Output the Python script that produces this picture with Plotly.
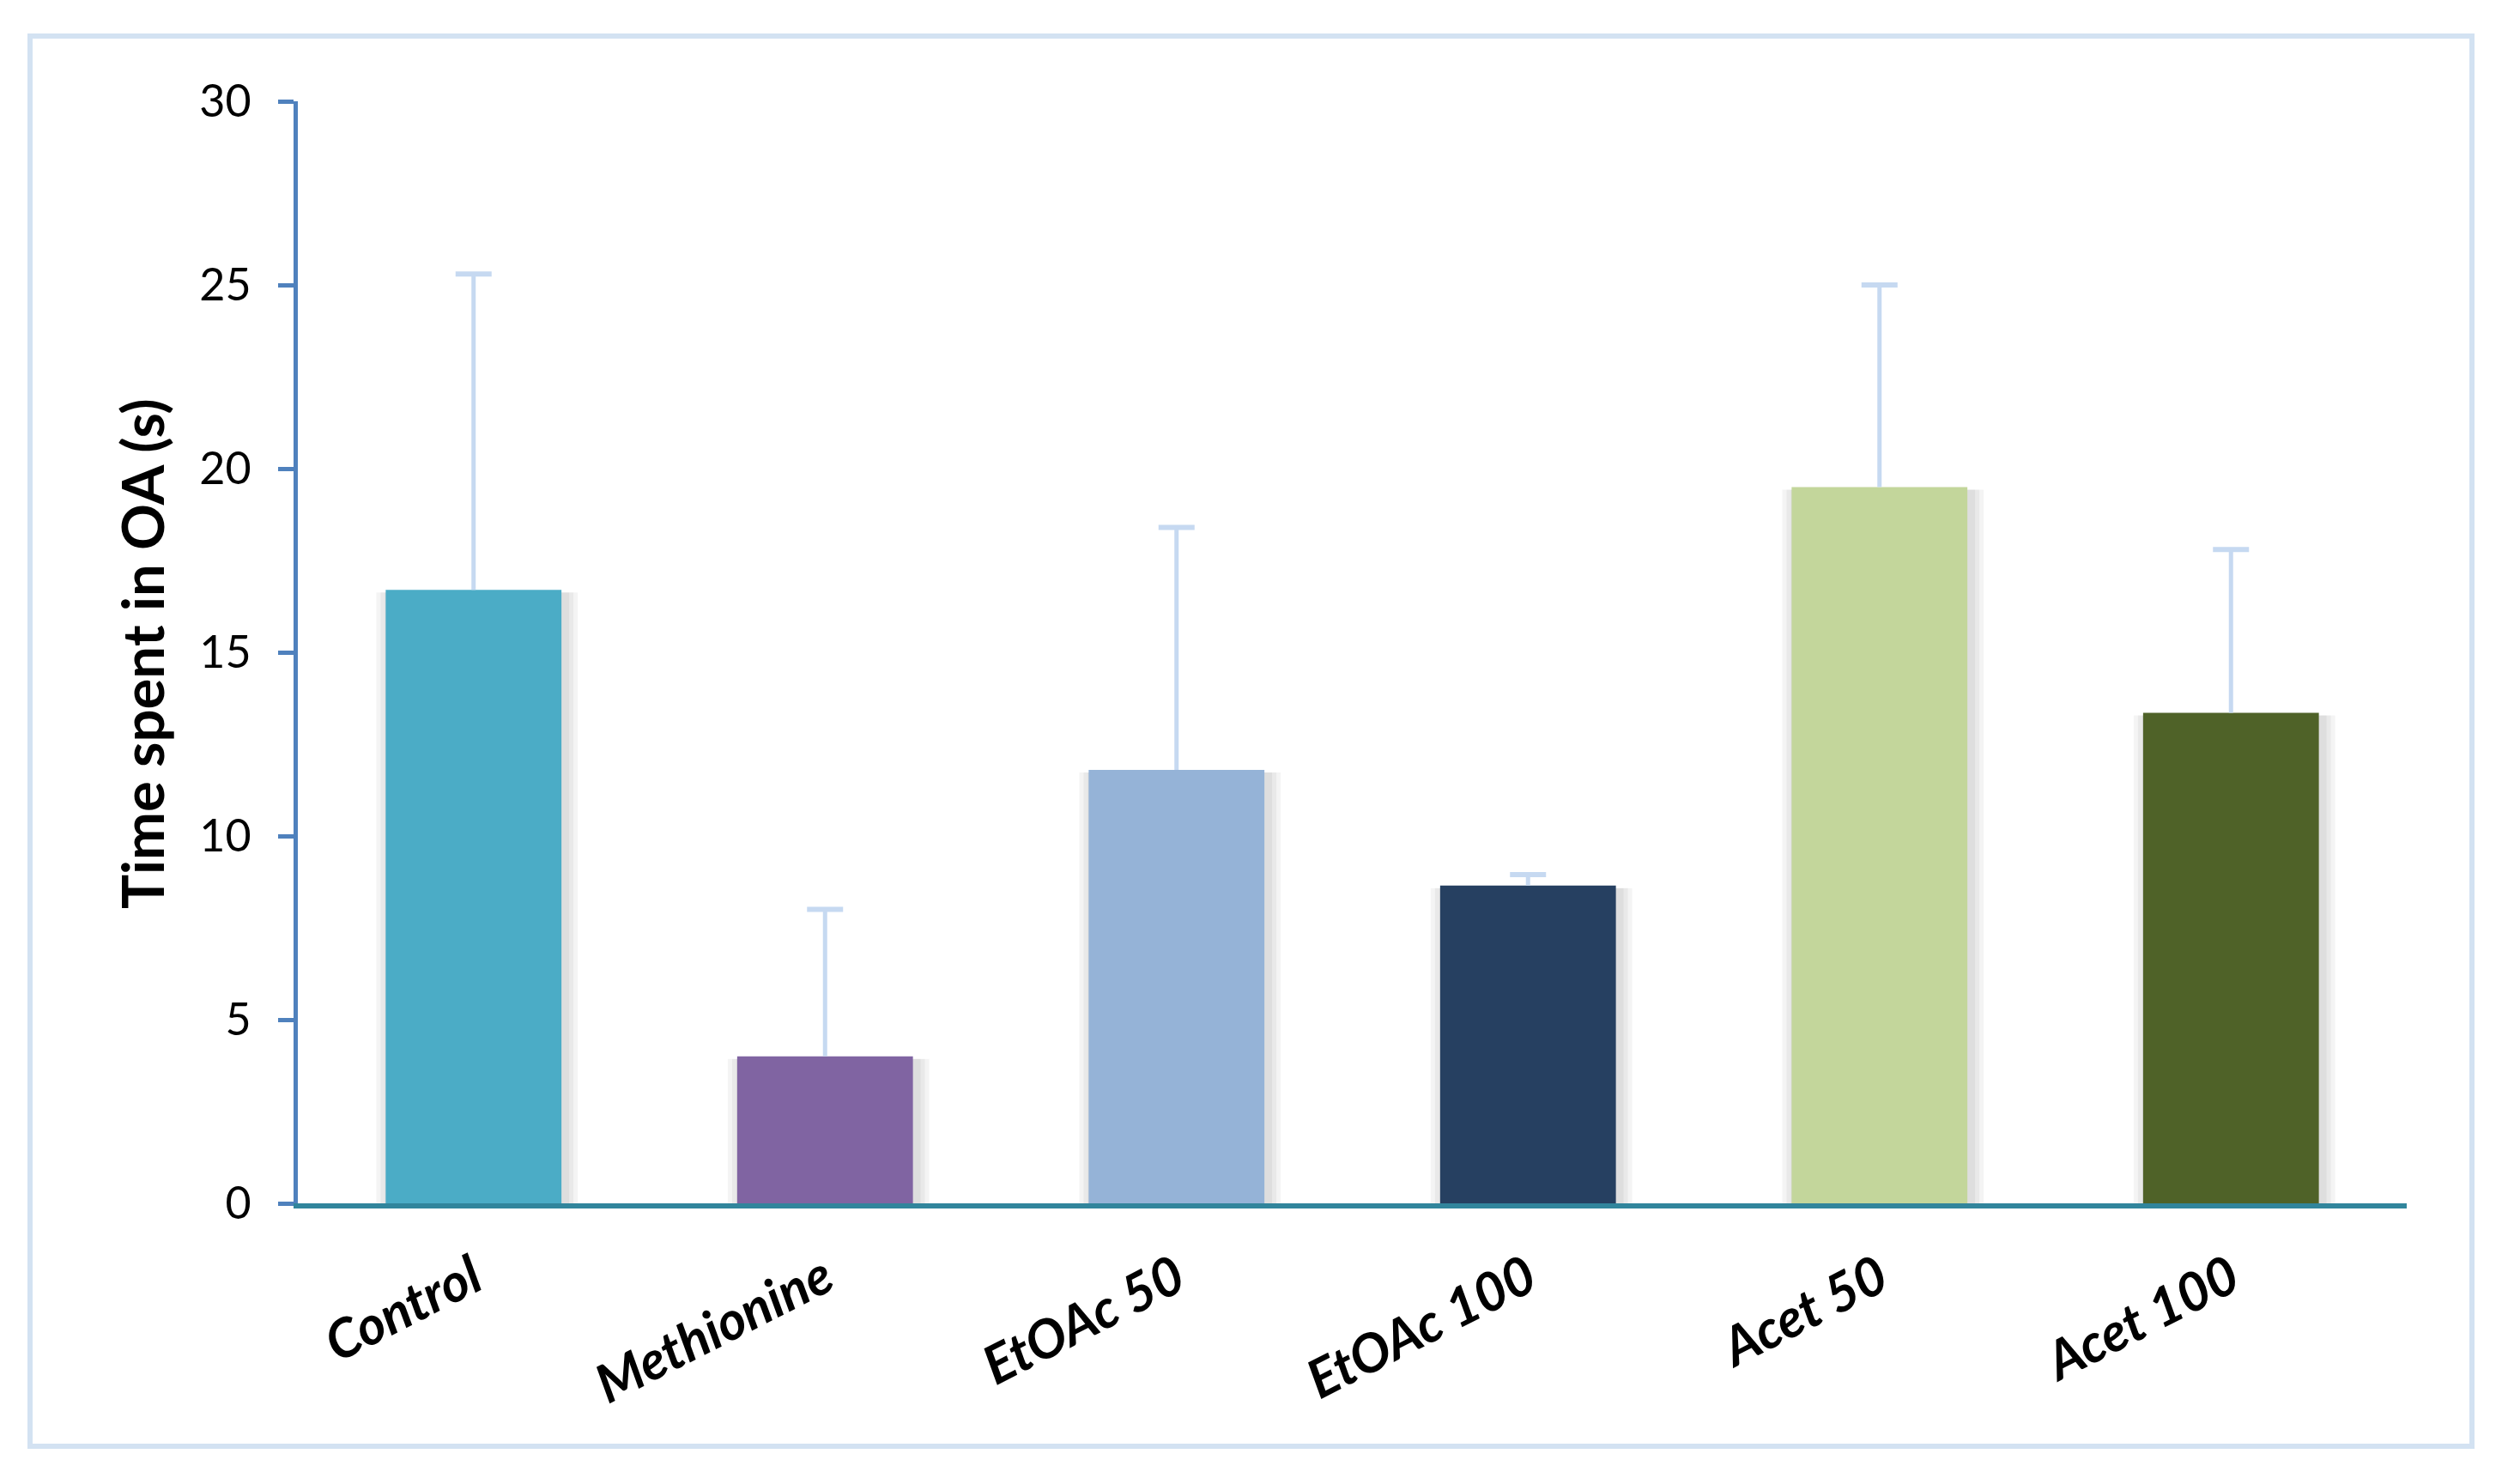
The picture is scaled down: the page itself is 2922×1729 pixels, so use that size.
import plotly.graph_objects as go

categories = ["Control", "Methionine", "EtOAc 50", "EtOAc 100", "Acet 50", "Acet 100"]
means = [16.7, 4.0, 11.8, 8.65, 19.5, 13.35]
upper = [25.3, 8.0, 18.4, 8.95, 25.0, 17.8]
colors = ["#4BACC6", "#8064A2", "#95B3D7", "#264061", "#C3D69B", "#4F6228"]
y_ticks = [0, 5, 10, 15, 20, 25, 30]

ERR_COLOR = "#C6D9F1"
BAR_W = 0.5

OFF = 8  # default body margin of the page
W, H = 2922 - OFF, 1729 - OFF
L, T = 347 - OFF, 118 - OFF
R, B = 2922 - 2804, 1729 - 1402
PW, PH = W - L - R, H - T - B
CAT_PX = PW / len(categories)
UNIT_PX = PH / 30.0

fig = go.Figure()

# soft drop shadow behind the bars
for k in (3, 2, 1):
    extra = 2 * 5 * k / CAT_PX
    wdt = BAR_W + extra
    fig.add_trace(go.Bar(
        x=categories,
        y=[m - 3 / UNIT_PX for m in means],
        width=wdt,
        offset=-wdt / 2 + 4 / CAT_PX,
        marker=dict(color="rgba(0,0,0,0.045)", line=dict(width=0)),
        showlegend=False, hoverinfo="skip",
    ))

fig.add_trace(go.Bar(
    x=categories,
    y=means,
    marker=dict(color=colors, line=dict(width=0)),
    width=BAR_W,
    offset=-BAR_W / 2,
    showlegend=False,
    hoverinfo="x+y",
))

# upper-only error bars: stems from bar top to upper value, plus caps
stem_x, stem_y = [], []
for c, m, u in zip(categories, means, upper):
    stem_x += [c, c, None]
    stem_y += [m, u, None]
fig.add_trace(go.Scatter(
    x=stem_x, y=stem_y, mode="lines",
    line=dict(color=ERR_COLOR, width=5),
    showlegend=False, hoverinfo="skip",
))
fig.add_trace(go.Scatter(
    x=categories, y=upper, mode="markers",
    marker=dict(symbol="line-ew", size=30, line=dict(color=ERR_COLOR, width=6)),
    showlegend=False, hoverinfo="skip",
))


def px_x(x):  # page pixel -> paper x
    return (x - OFF - L) / PW


def px_y(y):  # page pixel -> paper y
    return 1 - (y - OFF - T) / PH


fig.update_layout(
    width=W,
    height=H,
    margin=dict(l=L, r=R, t=T, b=B, pad=0),
    paper_bgcolor="white",
    plot_bgcolor="white",
    barmode="overlay",
    font=dict(family="Lato, 'Open Sans', sans-serif", color="black"),
    xaxis=dict(
        type="category",
        range=[-0.5, 5.5],
        showline=True,
        linecolor="#31859C",
        linewidth=6,
        ticks="",
        showgrid=False,
        zeroline=False,
        tickangle=-27,
        tickfont=dict(family="Lato", size=62, color="black", weight="bold", style="italic"),
        ticklabelstandoff=21,
    ),
    yaxis=dict(
        range=[0, 30],
        tickvals=y_ticks,
        ticktext=[str(v) for v in y_ticks],
        showline=True,
        linecolor="#4F81BD",
        linewidth=5,
        ticks="outside",
        ticklen=18,
        tickwidth=5,
        tickcolor="#4F81BD",
        showgrid=False,
        zeroline=False,
        tickfont=dict(family="Lato", size=52, color="black"),
        ticklabelstandoff=21,
    ),
    annotations=[dict(
        text="<b>Time spent in OA (s)</b>",
        xref="paper", yref="paper",
        x=px_x(165), y=px_y(762),
        xanchor="center", yanchor="middle",
        textangle=-90,
        showarrow=False,
        font=dict(family="Lato", size=67, color="black"),
    )],
    shapes=[dict(
        type="rect", xref="paper", yref="paper",
        x0=px_x(35), x1=px_x(2880),
        y0=px_y(1685), y1=px_y(42),
        line=dict(color="#D3E2F2", width=6),
        fillcolor="rgba(0,0,0,0)",
        layer="below",
    )],
)

fig.write_html("out.html")
